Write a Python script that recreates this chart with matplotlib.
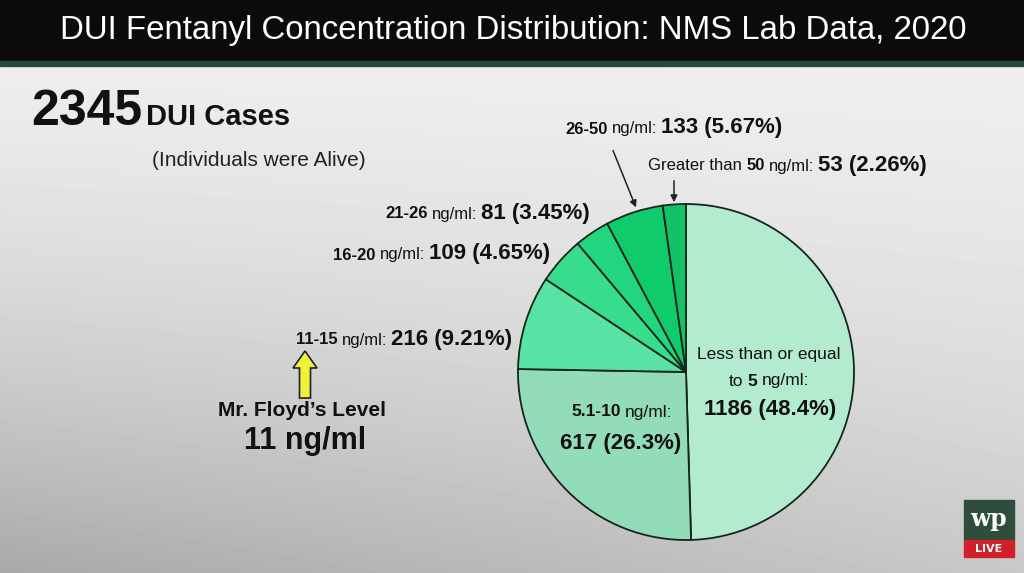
import matplotlib
matplotlib.use('Agg')
import matplotlib.pyplot as plt
import numpy as np
from matplotlib.patches import Rectangle, FancyArrow
from matplotlib.offsetbox import TextArea, HPacker, AnnotationBbox

# slice data, clockwise from 12 o'clock
ranges = ['<=5', '5.1-10', '11-15', '16-20', '21-26', '26-50', '>50']
counts = [1186, 617, 216, 109, 81, 133, 53]
percents = ['48.4', '26.3', '9.21', '4.65', '3.45', '5.67', '2.26']
total_cases = 2345

COLORS = ['#b3ebd0', '#93dcb9', '#58e2a3', '#36dd8d', '#22d67f', '#10cb6c', '#13c264']
EDGE = '#15261c'
FONT = ['Liberation Sans Narrow', 'Liberation Sans', 'DejaVu Sans']

fig = plt.figure(figsize=(10.24, 5.73), dpi=100)
ax = fig.add_axes([0, 0, 1, 1])

# background gradient (light top-right, darker bottom-left)
yy, xx = np.mgrid[0:573, 0:1024]
shade = 0.94 - 0.28 * (yy / 573) ** 1.6 * (1 - 0.45 * xx / 1024)
ax.imshow(shade, cmap='gray', vmin=0, vmax=1, extent=[0, 1024, 573, 0], zorder=0)

# title bar
ax.add_patch(Rectangle((0, 0), 1024, 61, color='#0b0b0b', zorder=1))
ax.add_patch(Rectangle((0, 61), 1024, 5, color='#29483d', zorder=1))
ax.text(513, 31, 'DUI Fentanyl Concentration Distribution: NMS Lab Data, 2020',
        color='white', fontsize=23.8, ha='center', va='center',
        family=['Liberation Sans', 'DejaVu Sans'], zorder=2)

# pie
cx, cy, r = 686, 372, 168
ax.pie(counts, colors=COLORS, center=(cx, cy), radius=r,
       startangle=-90, counterclock=True,
       wedgeprops=dict(edgecolor=EDGE, linewidth=1.3))


def label(x, y, parts, align=0.0):
    areas = [TextArea(t, textprops=dict(fontsize=s, fontweight=w, color='#111111',
                                        family=FONT)) for t, s, w in parts]
    box = HPacker(children=areas, align='baseline', pad=0, sep=3)
    ab = AnnotationBbox(box, (x, y), frameon=False, box_alignment=(align, 0.5),
                        zorder=5)
    ax.add_artist(ab)


def range_label(x, y, rng, n, pct, pre=''):
    parts = []
    if pre:
        parts.append((pre, 12, 'normal'))
    parts += [(rng, 12, 'bold'), ('ng/ml:', 12, 'normal'),
              ('%d (%s%%)' % (n, pct), 16, 'bold')]
    label(x, y, parts)


range_label(565, 128, '26-50', counts[5], percents[5])
range_label(648, 165, '50', counts[6], percents[6], pre='Greater than')
range_label(385, 213, '21-26', counts[4], percents[4])
range_label(333, 254, '16-20', counts[3], percents[3])
range_label(296, 339, '11-15', counts[2], percents[2])

# labels inside the pie
inside = dict(color='#111111', family=FONT, ha='center', va='center', zorder=5)
ax.text(769, 355, 'Less than or equal', fontsize=12.5, **inside)
label(769, 381, [('to', 12.5, 'normal'), ('5', 12.5, 'bold'), ('ng/ml:', 12.5, 'normal')], align=0.5)
ax.text(770, 410, '%d (%s%%)' % (counts[0], percents[0]), fontsize=16, fontweight='bold', **inside)
label(622, 412, [('5.1-10', 12.5, 'bold'), ('ng/ml:', 12.5, 'normal')], align=0.5)
ax.text(621, 443, '%d (%s%%)' % (counts[1], percents[1]), fontsize=16, fontweight='bold', **inside)

# pointer arrows for the thin slices
ax.annotate('', xy=(637, 210), xytext=(612, 148),
            arrowprops=dict(arrowstyle='-|>', color='#222222', lw=1.1, mutation_scale=10), zorder=5)
ax.annotate('', xy=(674, 205), xytext=(674, 178),
            arrowprops=dict(arrowstyle='-|>', color='#222222', lw=1.1, mutation_scale=10), zorder=5)

# Mr. Floyd marker
ax.add_patch(FancyArrow(305, 398, 0, -47, width=11, head_width=24, head_length=17,
                        length_includes_head=True, facecolor='#eef23a',
                        edgecolor='#222222', linewidth=1.2, zorder=5))
ax.text(302, 410, 'Mr. Floyd\u2019s Level', fontsize=15, fontweight='bold', ha='center',
        va='center', family=['Liberation Sans', 'DejaVu Sans'], color='#111111', zorder=5)
ax.text(305, 441, '11 ng/ml', fontsize=22, fontweight='bold', ha='center',
        va='center', family=['Liberation Sans', 'DejaVu Sans'], color='#111111', zorder=5)

# headline count
label(31, 112, [(str(total_cases), 36, 'bold'), ('DUI Cases', 21, 'bold')])
ax.text(152, 160, '(Individuals were Alive)', fontsize=15, ha='left', va='center',
        family=FONT, color='#222222', zorder=5)

# wp live badge
ax.add_patch(Rectangle((964, 500), 50, 40, color='#2e4d3c', zorder=5))
ax.add_patch(Rectangle((964, 540), 50, 17, color='#d0202a', zorder=5))
ax.text(989, 519, 'wp', color='white', fontsize=17, fontweight='bold', ha='center',
        va='center', family='DejaVu Serif', zorder=6)
ax.text(989, 549, 'LIVE', color='white', fontsize=8, fontweight='bold', ha='center',
        va='center', zorder=6)

ax.set_xlim(0, 1024)
ax.set_ylim(573, 0)
ax.set_aspect('auto')
ax.axis('off')

plt.savefig('out.png', dpi=100)
